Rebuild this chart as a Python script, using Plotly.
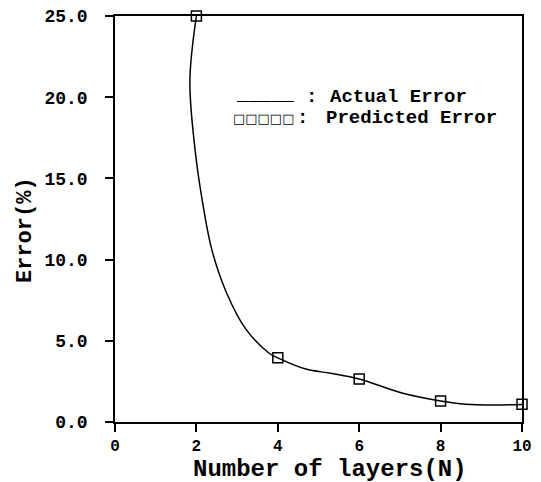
import plotly.graph_objects as go

# Predicted error (square markers)
pred_n = [2, 4, 6, 8, 10]
pred_err = [25.0, 3.95, 2.65, 1.3, 1.1]

# Actual error curve
act_n = [2.0, 1.84, 1.97, 2.14, 2.38, 2.75, 3.22, 3.78, 4.0, 4.69, 5.3, 6.0, 7.05, 8.0, 8.62, 9.3, 10.0]
act_err = [25.0, 21.0, 16.7, 13.7, 10.6, 7.9, 5.7, 4.25, 3.95, 3.26, 3.0, 2.65, 1.79, 1.3, 1.1, 1.05, 1.08]

x_ticks = [0, 2, 4, 6, 8, 10]
y_ticks = [0, 5, 10, 15, 20, 25]

FONT = "Liberation Mono"
SERIF = "DejaVu Serif"

# page offset of the plot div (body margin) compensated in margins
L, T, PW, PH = 107, 8, 407, 406
W, H = 533, 474


def px(x):  # page pixel -> paper x
    return (x - 115) / PW


def py(y):  # page pixel -> paper y
    return (422 - y) / PH


fig = go.Figure()
fig.add_trace(go.Scatter(x=act_n, y=act_err, mode="lines",
                         line=dict(color="black", width=1.5, shape="spline", smoothing=1.0),
                         cliponaxis=False, showlegend=False))
fig.add_trace(go.Scatter(x=pred_n, y=pred_err, mode="markers",
                         marker=dict(symbol="square-open", size=10, color="black",
                                     line=dict(width=1.5, color="black")),
                         cliponaxis=False, showlegend=False))

axis_common = dict(showgrid=False, zeroline=False, showline=True, linecolor="black", linewidth=1.5,
                   mirror=True, ticks="outside", ticklen=8, tickwidth=1.5, tickcolor="black",
                   ticklabeloverflow="allow")

fig.update_layout(
    width=W, height=H,
    margin=dict(l=L, r=W - L - PW, t=T, b=H - T - PH, autoexpand=False),
    paper_bgcolor="white", plot_bgcolor="white",
    font=dict(family=FONT, color="black"),
    xaxis=dict(range=[0, 10], tickvals=x_ticks, ticktext=[str(v) for v in x_ticks],
               tickfont=dict(family=FONT, size=16, color="black", weight="bold"),
               ticklabelstandoff=0, **axis_common),
    yaxis=dict(range=[0, 25], tickvals=y_ticks, ticktext=[f"{v:.1f}" for v in y_ticks],
               tickfont=dict(family=FONT, size=18, color="black", weight="bold"),
               ticklabelstandoff=14, **axis_common),
)

# axis titles
fig.add_annotation(xref="paper", yref="paper", x=px(330), y=py(469), xanchor="center", yanchor="middle",
                   text="<b>Number of layers(N)</b>", showarrow=False,
                   font=dict(family=FONT, size=24, color="black"))
fig.add_annotation(xref="paper", yref="paper", x=px(25), y=py(230), xanchor="center", yanchor="middle",
                   text="<b>Error(%)</b>", textangle=-90, showarrow=False,
                   font=dict(family=FONT, size=22, color="black"))

# legend-like text block
fig.add_annotation(xref="paper", yref="paper", x=px(234), y=py(95), xanchor="left", yanchor="middle",
                   text="<b>_____</b>", showarrow=False,
                   font=dict(family=FONT, size=19, color="black"))
fig.add_annotation(xref="paper", yref="paper", x=px(304), y=py(97), xanchor="left", yanchor="middle",
                   text="<b>:</b>", showarrow=False,
                   font=dict(family=FONT, size=19, color="black"))
fig.add_annotation(xref="paper", yref="paper", x=px(328), y=py(97), xanchor="left", yanchor="middle",
                   text="<b>Actual Error</b>", showarrow=False,
                   font=dict(family=FONT, size=19, color="black"))
fig.add_annotation(xref="paper", yref="paper", x=px(231), y=py(119), xanchor="left", yanchor="middle",
                   text="□□□□□", showarrow=False,
                   font=dict(family=SERIF, size=13, color="black"))
fig.add_annotation(xref="paper", yref="paper", x=px(295), y=py(118), xanchor="left", yanchor="middle",
                   text="<b>:</b>", showarrow=False,
                   font=dict(family=FONT, size=19, color="black"))
fig.add_annotation(xref="paper", yref="paper", x=px(324), y=py(118), xanchor="left", yanchor="middle",
                   text="<b>Predicted Error</b>", showarrow=False,
                   font=dict(family=FONT, size=19, color="black"))

fig.write_html("out.html")
